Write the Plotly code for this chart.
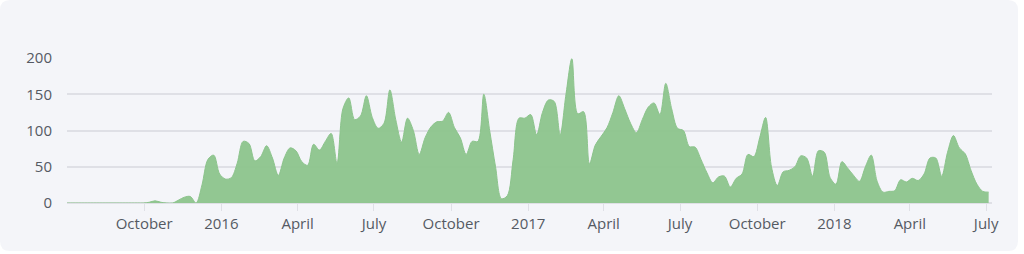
import pandas as pd
import plotly.graph_objects as go

# weekly commit counts (reading of the reference)
start_date = "2015-07-01"
weekly_commits = [
    0, 0, 0, 0, 0, 0, 0, 0, 0, 0, 0, 0, 0, 0,          # 0-13
    1, 3, 1, 0, 0, 4, 8, 9, 0, 25, 60, 66, 40, 33, 35, # 14-28
    55, 85, 82, 58, 64, 79, 62, 38, 62, 76, 72, 57, 52, 81, 73, 85, 96, 55,  # 29-46
    130, 145, 115, 120, 148, 118, 103, 110, 156, 115, 84, 117, 100, 67,       # 47-60
    90, 105, 112, 113, 125, 104, 90, 67, 85, 85, 150, 100, 50, 6, 10, 60,    # 61-76
    117, 117, 122, 94, 125, 142, 140, 94, 150, 199, 123, 126, 54, 80,        # 77-90
    92, 104, 125, 148, 130, 110, 97, 115, 132, 138, 122, 165, 130, 103,      # 91-104
    100, 78, 77, 60, 42, 28, 36, 37, 22, 34, 40, 67, 64, 90, 118, 50,        # 105-120
    24, 43, 45, 50, 65, 62, 37, 72, 70, 35, 26, 57, 48, 38, 30, 50, 66,      # 121-137
    30, 15, 16, 17, 32, 29, 34, 31, 40, 62, 62, 37, 70, 93, 76, 68, 45,      # 138-154
    26, 16, 15,                                                               # 155-157
]
weeks = pd.date_range(start_date, periods=len(weekly_commits), freq="7D")

tick_dates = ["2015-10-01", "2016-01-01", "2016-04-01", "2016-07-01",
              "2016-10-01", "2017-01-01", "2017-04-01", "2017-07-01",
              "2017-10-01", "2018-01-01", "2018-04-01", "2018-07-01"]
tick_labels = ["October", "2016", "April", "July", "October", "2017",
               "April", "July", "October", "2018", "April", "July"]
y_ticks = [0, 50, 100, 150, 200]

W, H = 1024, 254
ML, MR, MT, MB = 67, 32, 58, 51
CARD_BG = "#f4f5f9"
GRID = "#dfe0e6"
FONT = "Open Sans"

fig = go.Figure()
fig.add_trace(go.Scatter(
    x=weeks, y=weekly_commits,
    mode="lines",
    line=dict(shape="spline", smoothing=0.9, color="#8cc48c", width=1),
    fill="tozeroy",
    fillcolor="rgba(140,196,140,0.95)",
    hoverinfo="skip",
))

# rounded card background in paper coordinates
pw, ph = W - ML - MR, H - MT - MB
def px(x):
    return (x - ML) / pw
def py(y):
    return (H - MB - y) / ph
x0, x1, y0, y1, r = 0, 1018, 0, 251, 10
path = (f"M {px(x0 + r)} {py(y0)} L {px(x1 - r)} {py(y0)} "
        f"Q {px(x1)} {py(y0)} {px(x1)} {py(y0 + r)} "
        f"L {px(x1)} {py(y1 - r)} Q {px(x1)} {py(y1)} {px(x1 - r)} {py(y1)} "
        f"L {px(x0 + r)} {py(y1)} Q {px(x0)} {py(y1)} {px(x0)} {py(y1 - r)} "
        f"L {px(x0)} {py(y0 + r)} Q {px(x0)} {py(y0)} {px(x0 + r)} {py(y0)} Z")
fig.add_shape(type="path", path=path, xref="paper", yref="paper",
              fillcolor=CARD_BG, line=dict(width=0), layer="below")

fig.update_layout(
    width=W, height=H,
    margin=dict(l=ML, r=MR, t=MT, b=MB, pad=0),
    paper_bgcolor="white",
    plot_bgcolor="rgba(0,0,0,0)",
    showlegend=False,
    font=dict(family=FONT, size=15, color="#555a63"),
    xaxis=dict(
        type="date",
        range=["2015-07-01", "2018-07-08"],
        tickvals=tick_dates, ticktext=tick_labels,
        showgrid=False, zeroline=False, showline=False,
        ticks="outside", ticklen=7, tickcolor=GRID, tickwidth=1,
        tickfont=dict(family=FONT, size=15, color="#555a63"),
        fixedrange=True,
    ),
    yaxis=dict(
        range=[0, 200],
        tickvals=y_ticks,
        showgrid=True, gridcolor=GRID, gridwidth=1.5,
        zeroline=True, zerolinecolor=GRID, zerolinewidth=1.5,
        showline=False, ticks="",
        ticklabelstandoff=14,
        tickfont=dict(family=FONT, size=15, color="#555a63"),
        fixedrange=True,
    ),
)

fig.write_html("out.html", config={"displayModeBar": False})
